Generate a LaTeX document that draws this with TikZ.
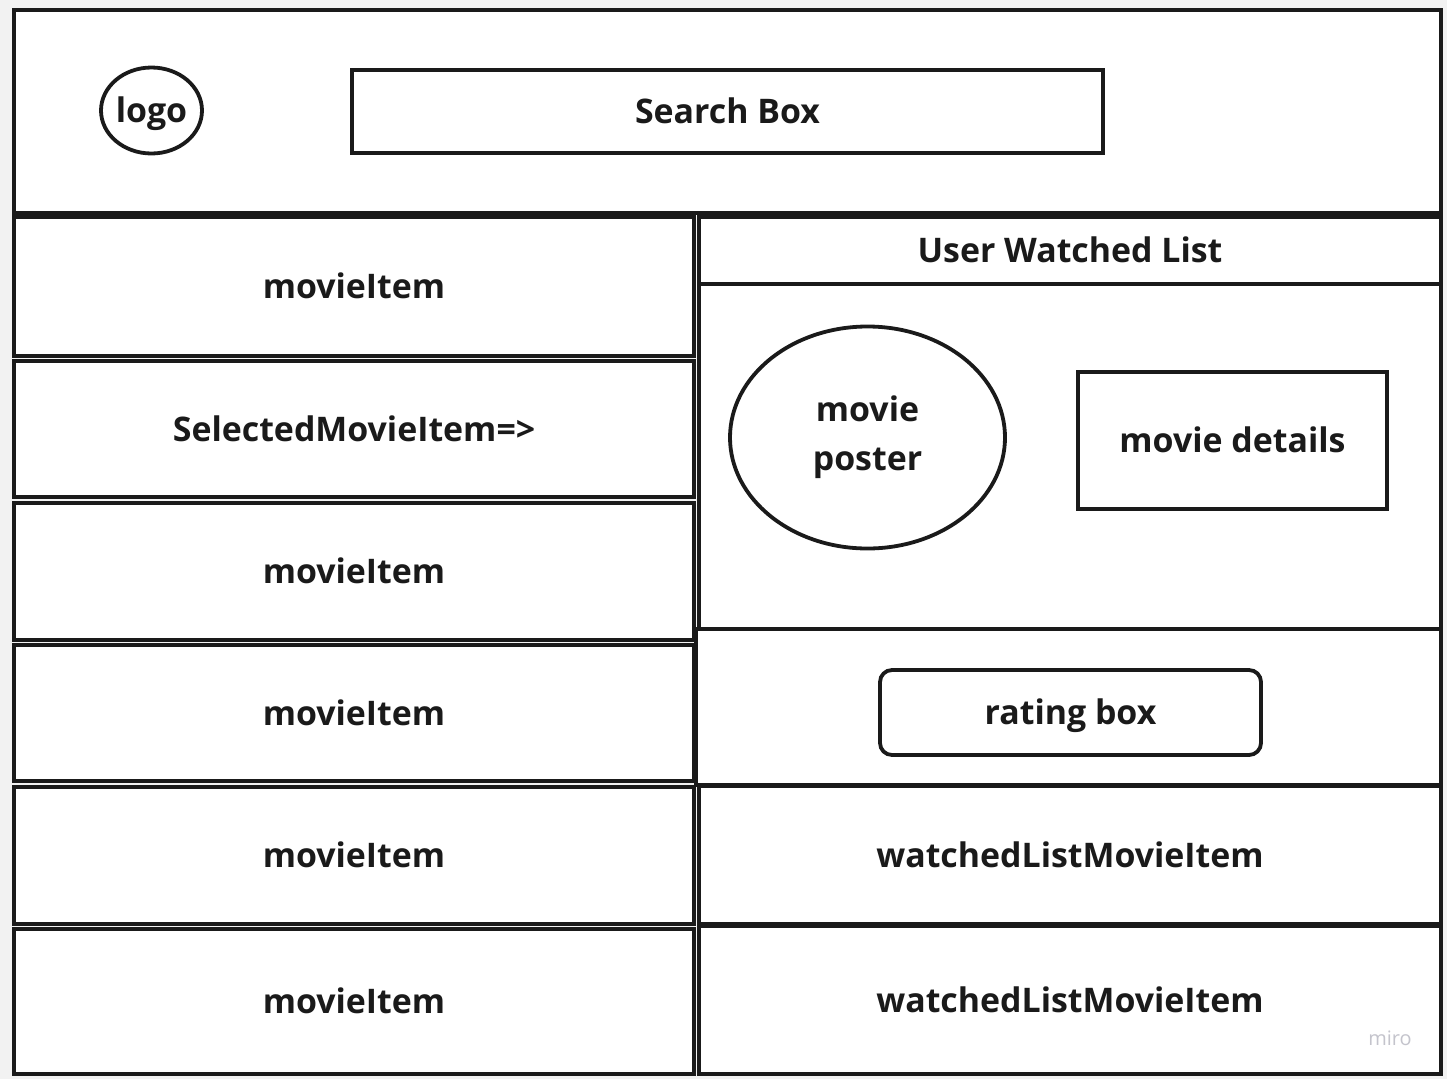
\documentclass[tikz,border=0pt]{standalone}
\usepackage{fontspec}
\setmainfont{Open Sans}
\usepackage{xcolor}
\usetikzlibrary{positioning,shapes.geometric}

\definecolor{ink}{HTML}{1A1A1A}
\definecolor{canvas}{HTML}{F2F2F2}
\definecolor{watermark}{HTML}{C4C4CC}

\begin{document}
\begin{tikzpicture}[
  x=1bp, y=-1bp,
  panel/.style={rectangle, draw=ink, line width=4.4bp, fill=white, inner sep=0pt, text=ink, font=\fontsize{34}{49}\selectfont\bfseries, text height=24bp, text depth=0bp},
  widget/.style={panel, line width=3.8bp},
  blob/.style={ellipse, draw=ink, line width=3.8bp, fill=white, inner sep=0pt, text=ink, font=\fontsize{34}{49}\selectfont\bfseries}
]

% Canvas
\fill[canvas] (0,0) rectangle (1447,1079);

% Header
\node[panel, minimum width=1427bp, minimum height=203bp] (header) at (727.5,111.5) {};
\node[blob, minimum width=99bp, minimum height=86bp, text height=24bp, text depth=0bp] (logo) at (151.5,110.5) {logo};
\node[widget, minimum width=751bp, minimum height=83bp] (search) at (727.5,111.5) {Search Box};

% Left column: movie list
\node[panel, minimum width=680bp, minimum height=139bp] (item1) at (354,286.5) {movieItem};
\node[panel, minimum width=680bp, minimum height=136bp] (selected) at (354,429) {SelectedMovieItem=>};
\node[panel, minimum width=680bp, minimum height=137bp] (item3) at (354,571.5) {movieItem};
\node[panel, minimum width=680bp, minimum height=136bp] (item4) at (354,713) {movieItem};
\node[panel, minimum width=680bp, minimum height=137bp] (item5) at (354,855.5) {movieItem};
\node[panel, minimum width=680bp, minimum height=145bp] (item6) at (354,1001.5) {movieItem};

% Right column: watched list
\node[panel, minimum width=742bp, minimum height=67bp] (listhead) at (1070,250.5) {User Watched List};
\node[panel, minimum width=742bp, minimum height=345bp] (detail) at (1070,456.5) {};
\node[blob, minimum width=275bp, minimum height=222bp, align=center] (poster) at (867.5,437.5) {movie\\poster};
\node[widget, minimum width=309bp, minimum height=137bp] (info) at (1232.5,440.5) {movie details};
\node[panel, minimum width=745bp, minimum height=156bp] (rating) at (1068.5,707) {};
\node[widget, rounded corners=12bp, minimum width=381bp, minimum height=85bp] (ratebox) at (1070.5,712.5) {rating box};
\node[panel, minimum width=742bp, minimum height=138bp] (watched1) at (1070,855) {watchedListMovieItem};
\node[panel, minimum width=742bp, minimum height=148bp] (watched2) at (1070,1000) {watchedListMovieItem};

% Watermark
\node[text=watermark, font=\fontsize{20}{24}\selectfont] (miro) at (1390,1038) {miro};

\end{tikzpicture}
\end{document}
